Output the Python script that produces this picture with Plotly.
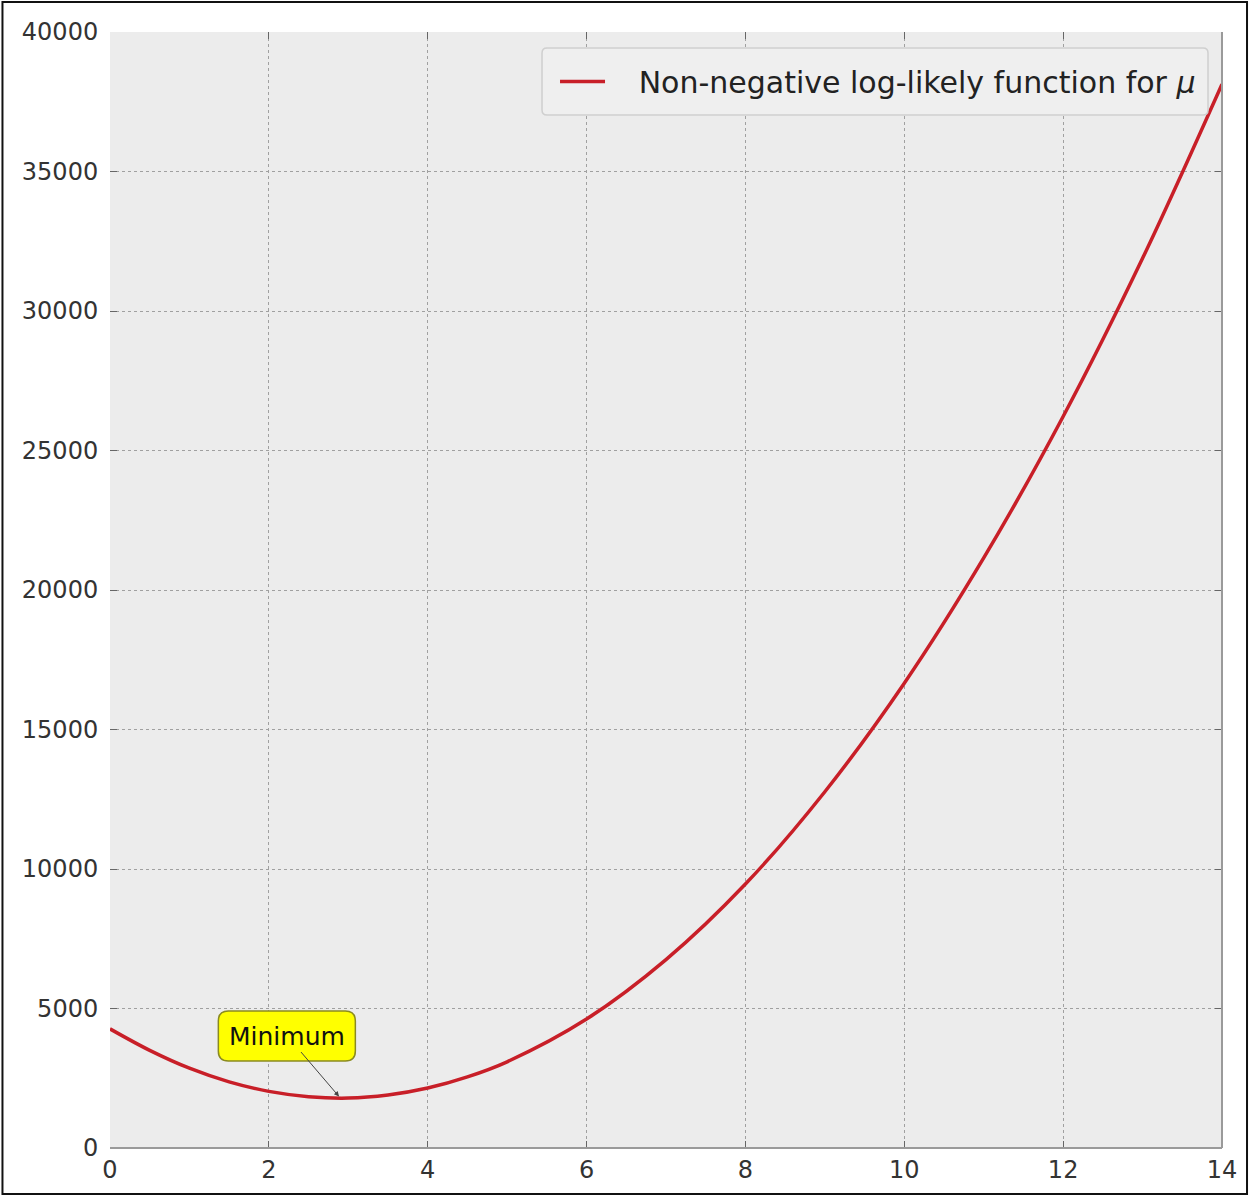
import plotly.graph_objects as go

# Negative log-likelihood evaluated on a grid of mu values
mu = [0, 0.5, 1, 1.5, 2, 2.5, 3, 3.5, 4, 4.5, 5, 6, 7, 8, 9, 10, 11, 12, 13, 14]
nll = [4270, 3500, 2860, 2370, 2030, 1840, 1790, 1900, 2150, 2550, 3090, 4620,
       6750, 9460, 12770, 16660, 21150, 26220, 31890, 38130]

x_ticks = [0, 2, 4, 6, 8, 10, 12, 14]
y_ticks = [0, 5000, 10000, 15000, 20000, 25000, 30000, 35000, 40000]

series_name = "\u00a0\u00a0\u00a0Non-negative log-likely function for <i>μ</i>"
min_label = "Minimum"
min_mu = 2.9
min_val = 1790

FONT = "DejaVu Sans"
GRID = "#a0a0a0"
SPINE = "#9a9a9a"

fig = go.Figure()
fig.add_trace(go.Scatter(
    x=mu, y=nll, mode="lines", line=dict(color="#c81f28", width=3.5, shape="spline"),
    name=series_name,
))

axis_common = dict(
    showgrid=True, gridcolor=GRID, griddash="3px,3px", gridwidth=1,
    zeroline=False, showline=True, linecolor="rgba(0,0,0,0)", mirror="ticks",
    ticks="inside", ticklen=7, tickcolor="#666", tickwidth=1,
    tickfont=dict(family=FONT, size=24, color="#333"),
)

fig.update_xaxes(range=[0, 14], tickvals=x_ticks, ticktext=[str(v) for v in x_ticks],
                 **axis_common)
fig.update_yaxes(range=[0, 40000], tickvals=y_ticks, ticktext=[str(v) for v in y_ticks],
                 ticklabelstandoff=6, **axis_common)

shapes = [
    # bottom and right spines
    dict(type="line", xref="paper", yref="paper", x0=0, x1=1, y0=0, y1=0,
         line=dict(color=SPINE, width=2)),
    dict(type="line", xref="paper", yref="paper", x0=1, x1=1, y0=0, y1=1,
         line=dict(color=SPINE, width=2)),
    # frame around the whole figure
    dict(type="rect", xref="paper", yref="paper", x0=-0.0967, x1=1.0225,
         y0=-0.0412, y1=1.0269, line=dict(color="#111", width=2), layer="above"),
    # legend panel with softly rounded corners (pixel path anchored at its top-left)
    dict(type="path", xref="paper", yref="paper", xsizemode="pixel", ysizemode="pixel",
         xanchor=0.3885, yanchor=0.9857,
         path=("M 5,0 L 661,0 Q 666,0 666,-5 L 666,-62 Q 666,-67 661,-67 "
               "L 5,-67 Q 0,-67 0,-62 L 0,-5 Q 0,0 5,0 Z"),
         fillcolor="#efefef", line=dict(color="#cfcfcf", width=1.5), layer="above"),
    # rounded label box for the minimum marker (pixel path anchored at the minimum)
    dict(type="path", xref="x", yref="y", xsizemode="pixel", ysizemode="pixel",
         xanchor=min_mu, yanchor=min_val,
         path=("M -112,37 L 5,37 Q 15,37 15,47 L 15,77 Q 15,87 5,87 "
               "L -112,87 Q -122,87 -122,77 L -122,47 Q -122,37 -112,37 Z"),
         fillcolor="#ffff00", line=dict(color="#8a8a20", width=1.5), layer="above"),
]

fig.add_annotation(
    x=min_mu, y=min_val, xref="x", yref="y", text=min_label,
    showarrow=True, ax=-53, ay=-62, arrowhead=2, arrowsize=1, arrowwidth=1,
    arrowcolor="#444", standoff=2,
    font=dict(family=FONT, size=25, color="#111"),
)

fig.update_layout(
    width=1249, height=1197,
    margin=dict(l=110, r=27, t=32, b=49),
    paper_bgcolor="white", plot_bgcolor="#ececec",
    shapes=shapes,
    showlegend=True,
    legend=dict(
        x=0.4002, y=0.9556, xanchor="left", yanchor="middle",
        bgcolor="rgba(0,0,0,0)", borderwidth=0,
        font=dict(family=FONT, size=30, color="#222"),
        itemwidth=45,
    ),
)

fig.write_html("out.html")
